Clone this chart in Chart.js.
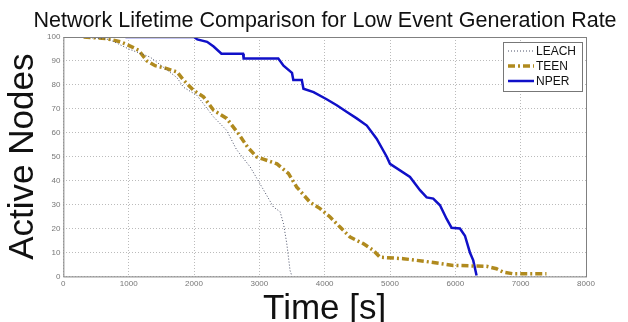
<!DOCTYPE html>
<html>
<head>
<meta charset="utf-8">
<script src="https://cdn.jsdelivr.net/npm/chart.js@4.4.0/dist/chart.umd.min.js"></script>
<style>
  html, body { margin: 0; padding: 0; background: #fff; }
  #wrap { width: 628px; height: 322px; }
</style>
</head>
<body>
<div id="wrap"><canvas id="chart" width="628" height="322"></canvas></div>
<script>
// data (time [s], active nodes)
const leachTime = [300, 700, 1000, 1330, 1740, 1840, 2045, 2300, 2500, 2650, 2860, 3010, 3215, 3318, 3370, 3420, 3470, 3500];
const leachNodes = [100, 99, 95, 91.6, 83, 79, 75.6, 66.6, 61, 53, 45.7, 38.7, 29, 27, 22, 13.7, 2.5, 0];

const teenTime = [310, 670, 870, 1000, 1150, 1280, 1405, 1585, 1740, 1840, 1995, 2145, 2300, 2500, 2680, 2820, 2960, 3060, 3270, 3445, 3573, 3775, 3930, 4083, 4235, 4390, 4590, 4745, 4847, 5203, 5408, 5612, 5968, 6478, 6630, 6733, 6886, 7395];
const teenNodes = [100, 99.3, 98, 96.5, 94.5, 90, 88, 86.8, 85.4, 82, 77.7, 75, 69.4, 66, 59.6, 54, 49.9, 49, 47, 43, 37.3, 31, 28.3, 24.8, 20.6, 16.4, 13.7, 10.9, 8, 7.4, 6.7, 6, 4.6, 4.2, 3.2, 1.8, 1.1, 1.1];

const nperTime = [950, 2000, 2050, 2200, 2300, 2420, 2750, 2760, 3290, 3370, 3500, 3520, 3650, 3675, 3830, 4030, 4185, 4340, 4490, 4645, 4795, 4950, 5000, 5306, 5459, 5561, 5662, 5765, 5867, 5943, 6070, 6147, 6223, 6274, 6325];
const nperNodes = [100, 100, 99, 98, 96, 93, 93, 91, 91, 88, 85, 82, 82, 78.4, 77, 74, 71.5, 68.7, 66, 63, 57.5, 50, 47, 41.5, 36, 33, 32.5, 29.7, 24, 20.3, 20, 17, 10, 6.7, 0.4];

const xTicks = [0, 1000, 2000, 3000, 4000, 5000, 6000, 7000, 8000];
const yTicks = [0, 10, 20, 30, 40, 50, 60, 70, 80, 90, 100];

const chartTitle = 'Network Lifetime Comparison for Low Event Generation Rate';
const FONT = '"Liberation Sans", Arial, sans-serif';

function toPoints(xs, ys) {
    return xs.map((x, i) => ({ x: x, y: ys[i] }));
}

// matlab style box around the plot area + title (title sits off-centre in the original)
const boxPlugin = {
    id: 'box',
    afterDraw(chart) {
        const a = chart.chartArea;
        const ctx = chart.ctx;
        ctx.save();
        ctx.strokeStyle = '#808080';
        ctx.lineWidth = 1;
        ctx.strokeRect(a.left + 0.5, a.top + 0.5, a.right - a.left, a.bottom - a.top);
        ctx.fillStyle = '#111';
        ctx.font = '21.5px ' + FONT;
        ctx.textAlign = 'center';
        ctx.textBaseline = 'alphabetic';
        ctx.fillText(chartTitle, 325, 27);
        ctx.restore();
    }
};

// legend inside the plot, top right
const insideLegend = {
    id: 'insideLegend',
    afterDraw(chart) {
        const a = chart.chartArea;
        const ctx = chart.ctx;
        const w = 79, h = 49;
        const x0 = a.right - 4 - w, y0 = a.top + 5;
        ctx.save();
        ctx.fillStyle = '#fff';
        ctx.fillRect(x0, y0, w, h);
        ctx.strokeStyle = '#777';
        ctx.lineWidth = 1;
        ctx.strokeRect(x0 + 0.5, y0 + 0.5, w, h);
        ctx.font = '12px ' + FONT;
        ctx.textBaseline = 'middle';
        chart.data.datasets.forEach((ds, i) => {
            const yy = y0 + 9 + i * 15;
            ctx.beginPath();
            ctx.strokeStyle = ds.borderColor;
            ctx.lineWidth = ds.borderWidth;
            ctx.setLineDash(ds.borderDash || []);
            ctx.moveTo(x0 + 5, yy);
            ctx.lineTo(x0 + 31, yy);
            ctx.stroke();
            ctx.setLineDash([]);
            ctx.fillStyle = '#111';
            ctx.fillText(ds.label, x0 + 33, yy + 1);
        });
        ctx.restore();
    }
};

const ctx = document.getElementById('chart').getContext('2d');
const myChart = new Chart(ctx, {
    type: 'scatter',
    data: {
        datasets: [
            {
                label: 'LEACH',
                data: toPoints(leachTime, leachNodes),
                showLine: true,
                borderColor: '#4a5068',
                borderWidth: 1,
                borderDash: [1, 2],
                pointRadius: 0,
                tension: 0
            },
            {
                label: 'TEEN',
                data: toPoints(teenTime, teenNodes),
                showLine: true,
                borderColor: '#b08a1e',
                borderWidth: 3.5,
                borderDash: [7, 3, 2, 3],
                pointRadius: 0,
                tension: 0
            },
            {
                label: 'NPER',
                data: toPoints(nperTime, nperNodes),
                showLine: true,
                borderColor: '#1010c8',
                borderWidth: 2.5,
                pointRadius: 0,
                tension: 0
            }
        ]
    },
    options: {
        responsive: false,
        animation: false,
        layout: { padding: { left: 2, right: 42, top: 37, bottom: 0 } },
        plugins: {
            legend: { display: false },
            tooltip: { enabled: false },
            title: { display: false }
        },
        scales: {
            x: {
                type: 'linear',
                min: 0,
                max: 8000,
                afterBuildTicks: axis => { axis.ticks = xTicks.map(v => ({ value: v })); },
                ticks: {
                    color: '#777',
                    font: { family: FONT, size: 8 },
                    maxRotation: 0,
                    padding: 3,
                    callback: v => String(v)
                },
                grid: { color: '#bbb', drawTicks: false },
                border: { display: false, dash: [1, 2] },
                title: {
                    display: true,
                    text: 'Time [s]',
                    color: '#111',
                    font: { family: FONT, size: 35 },
                    padding: { top: -4, bottom: -8 }
                }
            },
            y: {
                min: 0,
                max: 100,
                afterBuildTicks: axis => { axis.ticks = yTicks.map(v => ({ value: v })); },
                ticks: {
                    color: '#777',
                    font: { family: FONT, size: 8 },
                    padding: 3,
                    callback: v => String(v)
                },
                grid: { color: '#bbb', drawTicks: false },
                border: { display: false, dash: [1, 2] },
                title: {
                    display: true,
                    text: 'Active Nodes',
                    color: '#111',
                    font: { family: FONT, size: 35 },
                    padding: { top: 0, bottom: 0 }
                }
            }
        }
    },
    plugins: [boxPlugin, insideLegend]
});
</script>
</body>
</html>
